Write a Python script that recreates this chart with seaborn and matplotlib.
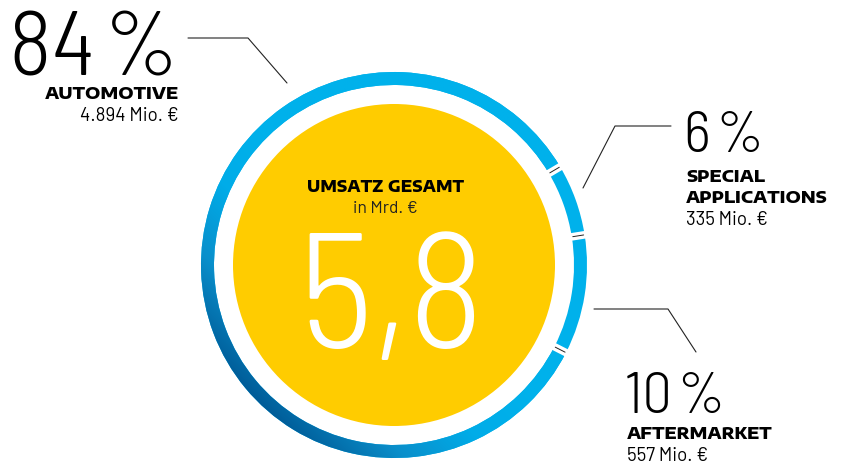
import numpy as np
import matplotlib
matplotlib.use("Agg")
import matplotlib.pyplot as plt
import seaborn as sns

# Daten
segments = ["AUTOMOTIVE", "SPECIAL APPLICATIONS", "AFTERMARKET"]
shares = [84, 6, 10]
values_mio = ["4.894", "335", "557"]
total_mrd = "5,8"
center_title = "UMSATZ GESAMT"
center_unit = "in Mrd.\u2009\u20ac"

# Farben
ring_light = "#00B1EB"
ring_gradient = ["#005C98", "#0A8FCB", "#00ACE8", "#00B1EB"]
yellow = "#FFCC00"

sns.set_theme(style="white")

W, H = 846, 464
CX, CY = 394, H - 266
R_OUT, RING_W, R_SUN = 193, 13, 161
START = -27
THIN = "\u2009"
HAIR = "\u200a"

BIG = dict(family=["Barlow Semi Condensed", "DejaVu Sans"], weight=300, color="black")
CAPS = dict(family="Encode Sans Expanded", weight=800, color="black")
SMALL = dict(family=["Barlow", "DejaVu Sans"], weight=400, color="black")


def Y(py):
    return H - py


fig = plt.figure(figsize=(W / 100, H / 100), dpi=100)
ax = fig.add_axes([0, 0, 1, 1])

# Ring als Donut
wedges, _ = ax.pie(shares, startangle=START, counterclock=False, radius=R_OUT,
                   center=(CX, CY), colors=[ring_light] * len(shares),
                   wedgeprops=dict(width=RING_W, linewidth=0))

# Verlauf auf dem Automotive-Segment
cmap = sns.blend_palette(ring_gradient, as_cmap=True)
gx, gy = np.meshgrid(np.linspace(-1, 1, 400), np.linspace(-1, 1, 400))
t = (gx + gy) / np.sqrt(2)
grad = np.clip(t + 1, 0, 1)
im = ax.imshow(grad, cmap=cmap, vmin=0, vmax=1, origin="lower",
               extent=[CX - R_OUT, CX + R_OUT, CY - R_OUT, CY + R_OUT], zorder=3)
im.set_clip_path(wedges[0])

# Lücken mit kleinen Strichen
bounds = START - 3.6 * np.cumsum(shares)
for a in bounds:
    ang = np.deg2rad(a)
    dx, dy = np.cos(ang), np.sin(ang)
    ax.plot([CX + 176 * dx, CX + 197 * dx], [CY + 176 * dy, CY + 197 * dy],
            color="white", lw=5.5, solid_capstyle="butt", zorder=4)
    ax.plot([CX + 181 * dx, CX + 192 * dx], [CY + 181 * dy, CY + 192 * dy],
            color="#222222", lw=0.7, zorder=5)

# gelbe Mitte
ax.add_patch(plt.Circle((CX, CY), R_SUN, color=yellow, lw=0, zorder=2))
ax.text(385, Y(192), center_title, ha="center", va="baseline", fontsize=11.2, **CAPS, zorder=6)
ax.text(385, Y(213), center_unit, ha="center", va="baseline", fontsize=12.5, zorder=6,
        **{**SMALL, "color": "#222222"})
ax.text(391, Y(348), total_mrd, ha="center", va="baseline", fontsize=118, zorder=6,
        **{**BIG, "color": "white"})

# Führungslinien
leaders = [
    ([188, 248, 287], [39, 39, 84]),
    ([671, 615, 583], [127, 127, 189]),
    ([594, 668, 696], [310, 310, 353]),
]
for xs, ys in leaders:
    ax.plot(xs, [Y(v) for v in ys], color="#222222", lw=0.8, zorder=5)

# Beschriftungen
ax.text(9, Y(75), f"{shares[0]}{HAIR}%", ha="left", va="baseline", fontsize=66, **BIG)
ax.text(179, Y(99), segments[0], ha="right", va="baseline", fontsize=12, **CAPS)
ax.text(179, Y(121), f"{values_mio[0]} Mio.{THIN}\u20ac", ha="right", va="baseline",
        fontsize=13.5, **SMALL)

special_1, special_2 = segments[1].split(" ")
ax.text(684, Y(152), f"{shares[1]}{HAIR}%", ha="left", va="baseline", fontsize=42, **BIG)
ax.text(686, Y(182), special_1, ha="left", va="baseline", fontsize=12, **CAPS)
ax.text(686, Y(203), special_2, ha="left", va="baseline", fontsize=12, **CAPS)
ax.text(686, Y(225), f"{values_mio[1]} Mio.{THIN}\u20ac", ha="left", va="baseline",
        fontsize=13.5, **SMALL)

ax.text(625, Y(413), f"{shares[2]}{HAIR}%", ha="left", va="baseline", fontsize=42, **BIG)
ax.text(627, Y(439), segments[2], ha="left", va="baseline", fontsize=12, **CAPS)
ax.text(627, Y(461), f"{values_mio[2]} Mio.{THIN}\u20ac", ha="left", va="baseline",
        fontsize=13.5, **SMALL)

ax.set_xlim(0, W)
ax.set_ylim(0, H)
ax.set_aspect("equal")
ax.axis("off")

fig.savefig("out.png", dpi=100)
plt.close(fig)
